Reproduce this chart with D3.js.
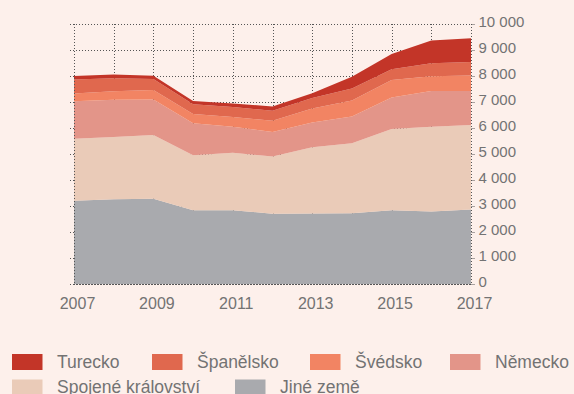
<!DOCTYPE html>
<html>
<head>
<meta charset="utf-8">
<script src="https://cdn.jsdelivr.net/npm/d3@7"></script>
<style>
  html, body { margin: 0; padding: 0; background: #fdf0eb; }
  svg { display: block; font-family: "Liberation Sans", Arial, sans-serif; }
</style>
</head>
<body>
<svg id="chart" width="574" height="394"></svg>
<script>
// Years on the horizontal axis
const years = [2007, 2008, 2009, 2010, 2011, 2012, 2013, 2014, 2015, 2016, 2017];

// Values per country group (stacked from the bottom up)
const jineZeme      = [3200, 3260, 3280, 2840, 2840, 2700, 2710, 2720, 2840, 2790, 2870];
const spojeneKr     = [2390, 2390, 2450, 2110, 2210, 2200, 2550, 2690, 3120, 3260, 3250];
const nemecko       = [1440, 1440, 1370, 1230, 1000,  950,  950, 1030, 1210, 1370, 1300];
const svedsko       = [ 300,  320,  360,  360,  370,  430,  540,  615,  676,  570,  600];
const spanelsko     = [ 540,  500,  420,  370,  390,  380,  400,  460,  410,  500,  520];
const turecko       = [ 130,  150,  130,  130,  130,  170,  190,  460,  590,  880,  910];

const seriesNames  = ["Jiné země", "Spojené království", "Německo", "Švédsko", "Španělsko", "Turecko"];
const seriesValues = [jineZeme, spojeneKr, nemecko, svedsko, spanelsko, turecko];
const seriesColors = ["#a9aaae", "#eacbb8", "#e39589", "#f28463", "#e0684e", "#c33528"];

const yTicks = [0, 1000, 2000, 3000, 4000, 5000, 6000, 7000, 8000, 9000, 10000];
const xTickYears = [2007, 2009, 2011, 2013, 2015, 2017];

// Legend layout: rows of entries
const legendRows = [
  ["Turecko", "Španělsko", "Švédsko", "Německo"],
  ["Spojené království", "Jiné země"]
];

const svg = d3.select("#chart");
const textColor = "#737373";

const x = d3.scaleLinear().domain([2007, 2017]).range([74, 471]);
const y = d3.scaleLinear().domain([0, 10000]).range([284, 24]);

// Build rows for the stack
const rows = years.map((yr, i) => {
  const r = { year: yr };
  seriesNames.forEach((n, k) => { r[n] = seriesValues[k][i]; });
  return r;
});
const stacked = d3.stack().keys(seriesNames)(rows);

// Dotted grid
const grid = svg.append("g").attr("stroke", "#555").attr("stroke-width", 1)
  .attr("stroke-dasharray", "1,2");
grid.selectAll("line.h").data(yTicks).join("line")
  .attr("x1", 70).attr("x2", x(2017))
  .attr("y1", d => Math.round(y(d)) + 0.5).attr("y2", d => Math.round(y(d)) + 0.5);
grid.selectAll("line.v").data(years).join("line")
  .attr("x1", d => Math.round(x(d)) + 0.5).attr("x2", d => Math.round(x(d)) + 0.5)
  .attr("y1", y(10000)).attr("y2", y(0));

// Stacked areas
const area = d3.area()
  .x(d => x(d.data.year))
  .y0(d => y(d[0]))
  .y1(d => y(d[1]));
svg.append("g").selectAll("path").data(stacked).join("path")
  .attr("d", area)
  .attr("fill", (d, i) => seriesColors[i]);

// Baseline, left edge and right axis line drawn over the areas
const overlay = svg.append("g").attr("stroke", "#555").attr("stroke-dasharray", "1,2");
overlay.append("line").attr("x1", x(2007)).attr("x2", x(2017))
  .attr("y1", Math.round(y(0)) + 0.5).attr("y2", Math.round(y(0)) + 0.5);
overlay.append("line").attr("x1", Math.round(x(2007)) + 0.5).attr("x2", Math.round(x(2007)) + 0.5)
  .attr("y1", y(10000)).attr("y2", y(0));
overlay.append("line").attr("x1", Math.round(x(2017)) + 0.5).attr("x2", Math.round(x(2017)) + 0.5)
  .attr("y1", y(10000)).attr("y2", y(0));

// Right axis
const fmt = v => d3.format(",")(v).replace(/,/g, " ");
const yAxis = d3.axisRight(y).tickValues(yTicks).tickSize(3).tickPadding(4).tickFormat(fmt);
const gy = svg.append("g").attr("transform", `translate(${Math.round(x(2017)) + 0.5},0)`).call(yAxis);
gy.select(".domain").remove();
gy.selectAll(".tick line").attr("stroke", "#555").attr("stroke-dasharray", "1,1");
gy.selectAll(".tick text").attr("fill", textColor).attr("font-size", 15)
  .attr("font-family", "Liberation Sans, Arial, sans-serif").attr("dy", "0.17em");

// Bottom axis
const xAxis = d3.axisBottom(x).tickValues(xTickYears).tickSize(0).tickPadding(0).tickFormat(d3.format("d"));
const gx = svg.append("g").attr("transform", `translate(3,${y(0)})`).call(xAxis);
gx.select(".domain").remove();
gx.selectAll(".tick text").attr("fill", textColor).attr("font-size", 16)
  .attr("font-family", "Liberation Sans, Arial, sans-serif").attr("dy", 0).attr("y", 25);

// Legend
const legendX = [[12, 152, 310, 450], [12, 235]];
const legendY = [354, 379.5];
const legend = svg.append("g");
legendRows.forEach((row, ri) => {
  row.forEach((name, ci) => {
    const k = seriesNames.indexOf(name);
    const gx0 = legendX[ri][ci];
    legend.append("rect").attr("x", gx0).attr("y", legendY[ri])
      .attr("width", 30.5).attr("height", 16).attr("fill", seriesColors[k]);
    legend.append("text").attr("x", gx0 + 45).attr("y", legendY[ri] + 13.5)
      .attr("font-size", 17.5).attr("fill", textColor).text(name);
  });
});
</script>
</body>
</html>
